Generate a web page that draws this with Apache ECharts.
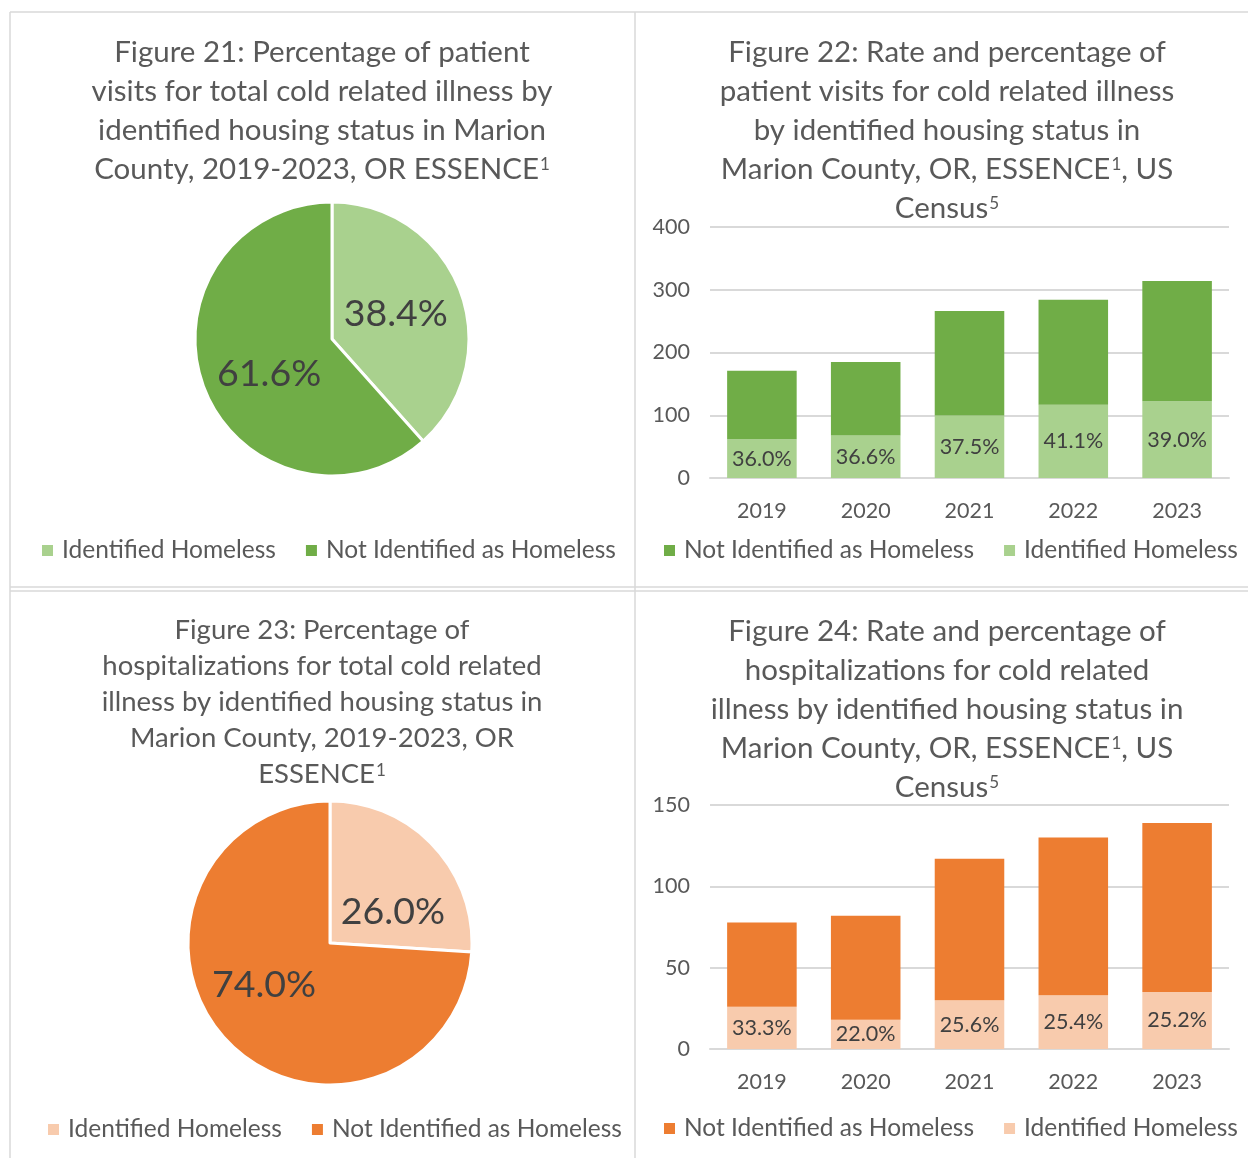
<!DOCTYPE html>
<html>
<head>
<meta charset="utf-8">
<script src="https://cdn.jsdelivr.net/npm/echarts@6/dist/echarts.min.js"></script>
<style>
  html, body { margin: 0; padding: 0; background: #fff; }
  #main { width: 1248px; height: 1158px; }
</style>
</head>
<body>
<div id="main"></div>
<script>
// data
const years = ['2019', '2020', '2021', '2022', '2023']
const pieNames = ['Identified Homeless', 'Not Identified as Homeless']
const visitsPie = [38.4, 61.6]          // Figure 21
const hospPie = [26.0, 74.0]            // Figure 23
const visitsHomeless = [61.6, 67.7, 99.8, 116.7, 122.5]     // Figure 22
const visitsNotHomeless = [109.4, 117.3, 166.2, 167.3, 191.5]
const visitsPct = [36.0, 36.6, 37.5, 41.1, 39.0]
const hospHomeless = [25.9, 18.0, 30.0, 33.0, 35.0]         // Figure 24
const hospNotHomeless = [51.9, 63.9, 87.0, 97.0, 104.0]
const hospPct = [33.3, 22.0, 25.6, 25.4, 25.2]
const visitsTicks = { min: 0, max: 400, interval: 100 }
const hospTicks = { min: 0, max: 150, interval: 50 }

const green = '#70AD47', greenLight = '#A9D18E'
const orange = '#ED7D31', orangeLight = '#F8CBAD'
const font = 'Lato'
const gray = '#595959', dark = '#404040', line = '#D9D9D9'

// Excel's "best fit" puts the pie labels a bit off the mid radius
const pieLabelNudge = [
    [[-3, 0], [4, 9]],
    [[9, 20], [-12, -9]]
]

const chart = echarts.init(document.getElementById('main'))

const sup = { sup: { fontSize: 17, verticalAlign: 'top', fontFamily: font, color: gray, padding: [6, 0, 0, 1] } }

function title(text, x, y, size, lh) {
    return {
        text: text,
        left: x,
        top: y,
        textAlign: 'center',
        padding: 0,
        textStyle: { fontFamily: font, fontSize: size, fontWeight: 'normal', color: gray, lineHeight: lh, rich: sup }
    }
}

function legend(items, x, y) {
    return {
        left: x,
        top: y,
        padding: 0,
        itemWidth: 11,
        itemHeight: 11,
        itemGap: 30,
        icon: 'rect',
        selectedMode: false,
        textStyle: { fontFamily: font, fontSize: 24.5, color: gray, padding: [0, 0, 0, 4] },
        data: items.map(function (it) { return { name: it[0], itemStyle: { color: it[1] } } })
    }
}

function pie(values, colors, center, r, nudge) {
    return {
        type: 'pie',
        center: center,
        radius: r,
        startAngle: 90,
        clockwise: true,
        silent: true,
        itemStyle: { borderColor: '#fff', borderWidth: 3 },
        label: {
            position: 'inner',
            fontFamily: font,
            fontSize: 37.5,
            color: dark,
            formatter: function (p) { return p.value.toFixed(1) + '%' }
        },
        labelLayout: function (p) {
            return { dx: nudge[p.dataIndex][0], dy: nudge[p.dataIndex][1] }
        },
        data: values.map(function (v, i) { return { name: pieNames[i], value: v, itemStyle: { color: colors[i] } } })
    }
}

function xAxis(grid) {
    return {
        type: 'category',
        gridIndex: grid,
        data: years,
        axisLine: { lineStyle: { color: line, width: 2 } },
        axisTick: { show: false },
        axisLabel: { fontFamily: font, fontSize: 21.5, color: gray, margin: 22 }
    }
}

function yAxis(grid, ticks) {
    return {
        type: 'value',
        gridIndex: grid,
        min: ticks.min,
        max: ticks.max,
        interval: ticks.interval,
        splitLine: { lineStyle: { color: line, width: 2 } },
        axisLabel: { fontFamily: font, fontSize: 21.5, color: gray, margin: 20 }
    }
}

function bars(grid, homeless, notHomeless, pct, colDark, colLight, stack) {
    return [{
        name: 'Identified Homeless',
        type: 'bar',
        stack: stack,
        xAxisIndex: grid,
        yAxisIndex: grid,
        barCategoryGap: '33%',
        silent: true,
        itemStyle: { color: colLight },
        label: {
            show: true,
            position: 'inside',
            fontFamily: font,
            fontSize: 21.5,
            color: dark,
            formatter: function (p) { return pct[p.dataIndex].toFixed(1) + '%' }
        },
        data: homeless
    }, {
        name: 'Not Identified as Homeless',
        type: 'bar',
        stack: stack,
        xAxisIndex: grid,
        yAxisIndex: grid,
        barCategoryGap: '33%',
        silent: true,
        itemStyle: { color: colDark },
        data: notHomeless
    }]
}

const option = {
    animation: false,
    backgroundColor: '#fff',
    title: [
        title('Figure 21: Percentage of patient\nvisits for total cold related illness by\nidentified housing status in Marion\nCounty, 2019-2023, OR ESSENCE{sup|1}', 322, 33, 29.5, 39),
        title('Figure 22: Rate and percentage of\npatient visits for cold related illness\nby identified housing status in\nMarion County, OR, ESSENCE{sup|1}, US\nCensus{sup|5}', 947, 33, 29.5, 39),
        title('Figure 23: Percentage of\nhospitalizations for total cold related\nillness by identified housing status in\nMarion County, 2019-2023, OR\nESSENCE{sup|1}', 322, 612, 27.5, 36),
        title('Figure 24: Rate and percentage of\nhospitalizations for cold related\nillness by identified housing status in\nMarion County, OR, ESSENCE{sup|1}, US\nCensus{sup|5}', 947, 612, 29.5, 39)
    ],
    legend: [
        legend([['Identified Homeless', greenLight], ['Not Identified as Homeless', green]], 42, 538),
        legend([['Not Identified as Homeless', green], ['Identified Homeless', greenLight]], 664, 538),
        legend([['Identified Homeless', orangeLight], ['Not Identified as Homeless', orange]], 48, 1117),
        legend([['Not Identified as Homeless', orange], ['Identified Homeless', orangeLight]], 664, 1116)
    ],
    grid: [
        { left: 710, right: 19, top: 227, height: 251 },
        { left: 710, right: 19, top: 805, height: 244 }
    ],
    xAxis: [xAxis(0), xAxis(1)],
    yAxis: [yAxis(0, visitsTicks), yAxis(1, hospTicks)],
    series: [
        pie(visitsPie, [greenLight, green], [332, 339], 137, pieLabelNudge[0]),
        pie(hospPie, [orangeLight, orange], [330, 943], 142, pieLabelNudge[1])
    ].concat(
        bars(0, visitsHomeless, visitsNotHomeless, visitsPct, green, greenLight, 'visits'),
        bars(1, hospHomeless, hospNotHomeless, hospPct, orange, orangeLight, 'hosp')
    ),
    // panel frame lines
    graphic: [
        { type: 'line', shape: { x1: 10, y1: 12, x2: 1248, y2: 12 }, style: { stroke: line, lineWidth: 1.5 } },
        { type: 'line', shape: { x1: 10, y1: 12, x2: 10, y2: 1158 }, style: { stroke: line, lineWidth: 1.5 } },
        { type: 'line', shape: { x1: 635, y1: 12, x2: 635, y2: 1158 }, style: { stroke: line, lineWidth: 1.5 } },
        { type: 'line', shape: { x1: 10, y1: 587, x2: 1248, y2: 587 }, style: { stroke: line, lineWidth: 1.5 } },
        { type: 'line', shape: { x1: 10, y1: 591, x2: 1248, y2: 591 }, style: { stroke: line, lineWidth: 1.5 } }
    ]
}

chart.setOption(option)
</script>
</body>
</html>
